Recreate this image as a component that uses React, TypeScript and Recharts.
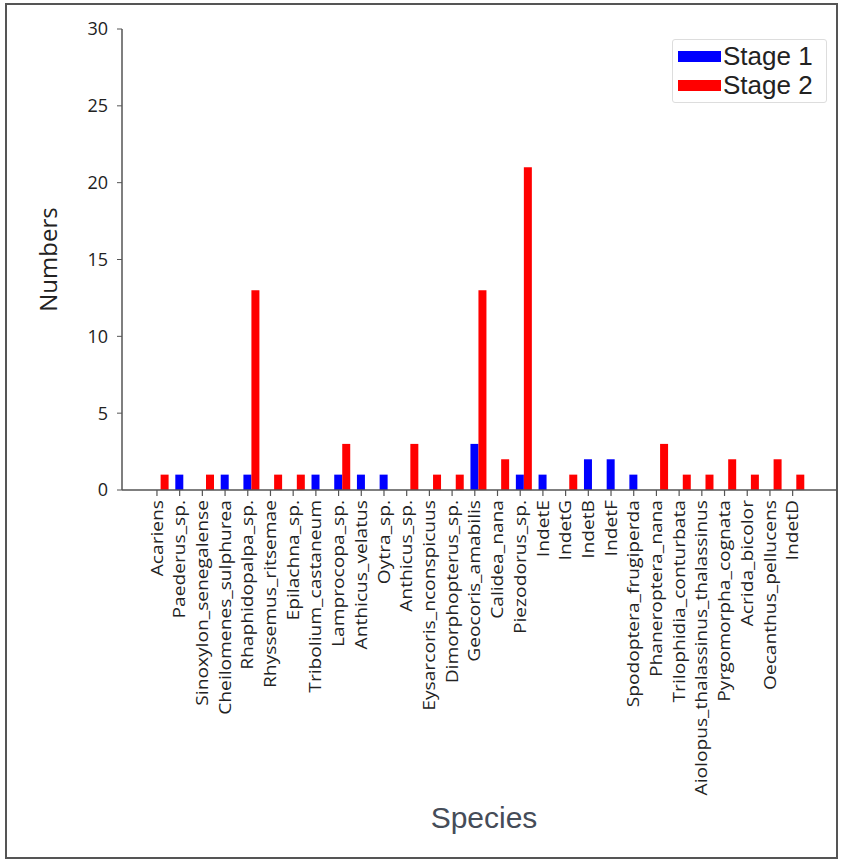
import { Bar, BarChart, XAxis, YAxis } from "recharts";

const species = [
  "Acariens",
  "Paederus_sp.",
  "Sinoxylon_senegalense",
  "Cheilomenes_sulphurea",
  "Rhaphidopalpa_sp.",
  "Rhyssemus_ritsemae",
  "Epilachna_sp.",
  "Tribolium_castaneum",
  "Lamprocopa_sp.",
  "Anthicus_velatus",
  "Oytra_sp.",
  "Anthicus_sp.",
  "Eysarcoris_nconspicuus",
  "Dimorphopterus_sp.",
  "Geocoris_amabilis",
  "Calidea_nana",
  "Piezodorus_sp.",
  "IndetE",
  "IndetG",
  "IndetB",
  "IndetF",
  "Spodoptera_frugiperda",
  "Phaneroptera_nana",
  "Trilophidia_conturbata",
  "Aiolopus_thalassinus_thalassinus",
  "Pyrgomorpha_cognata",
  "Acrida_bicolor",
  "Oecanthus_pellucens",
  "IndetD"
];

const stage1 = [0, 1, 0, 1, 1, 0, 0, 1, 1, 1, 1, 0, 0, 0, 3, 0, 1, 1, 0, 2, 2, 1, 0, 0, 0, 0, 0, 0, 0];
const stage2 = [1, 0, 1, 0, 13, 1, 1, 0, 3, 0, 0, 3, 1, 1, 13, 2, 21, 0, 1, 0, 0, 0, 3, 1, 1, 2, 1, 2, 1];

const yTicks = [0, 5, 10, 15, 20, 25, 30];

const series = [
  { key: "stage1", name: "Stage 1", color: "#0000ff" },
  { key: "stage2", name: "Stage 2", color: "#ff0000" }
];

const data = species.map((name, i) => ({ name, stage1: stage1[i], stage2: stage2[i] }));

const AXIS = "#555";
const TEXT = "#222";

// tick labels in the source are tall and narrow, so stretch them along the text
function SpeciesTick(props: any) {
  const { x, y, payload } = props;
  const tx = x - 4;
  return (
    <g>
      <line x1={tx} y1={y} x2={tx} y2={y + 6} stroke={AXIS} strokeWidth={1.2} />
      <text
        x={0}
        y={0}
        dy="0.35em"
        transform={`translate(${tx},${y + 10}) rotate(-90) scale(1.2,1)`}
        textAnchor="end"
        fontFamily="'Open Sans', sans-serif"
        fontSize={16}
        fill={TEXT}
      >
        {payload.value}
      </text>
    </g>
  );
}

export default function App() {
  return (
    <div style={{ position: "absolute", left: 0, top: 0, width: 843, height: 861, background: "#fff" }}>
      <div
        style={{
          position: "absolute",
          left: 5,
          top: 3,
          width: 833,
          height: 856,
          border: "2px solid #555",
          boxSizing: "border-box"
        }}
      />
      <BarChart
        width={843}
        height={861}
        data={data}
        margin={{ top: 29, right: 7, bottom: 71, left: 0 }}
        barGap={0}
        barSize={8}
      >
        <XAxis
          dataKey="name"
          interval={0}
          height={300}
          tickSize={0}
          tickMargin={0}
          tickLine={false}
          axisLine={{ stroke: AXIS, strokeWidth: 1.5 }}
          padding={{ left: 27.6, right: 28 }}
          tick={<SpeciesTick />}
          label={{
            value: "Species",
            position: "bottom",
            offset: 17,
            dx: 5,
            fill: "#454c58",
            fontSize: 30,
            fontFamily: "'Liberation Sans', Arial, sans-serif"
          }}
        />
        <XAxis
          xAxisId="top"
          dataKey="name"
          orientation="top"
          height={0}
          tick={false}
          tickLine={false}
          axisLine={{ stroke: AXIS, strokeWidth: 1.5 }}
        />
        <YAxis
          domain={[0, 30]}
          ticks={yTicks}
          width={122}
          tickSize={5}
          tickMargin={9}
          axisLine={{ stroke: AXIS, strokeWidth: 1.5 }}
          tickLine={{ stroke: AXIS }}
          tick={{ fill: TEXT, fontSize: 18, fontFamily: "'Open Sans', sans-serif" }}
          label={{
            value: "Numbers",
            angle: -90,
            position: "center",
            dx: -13,
            fill: TEXT,
            fontSize: 24,
            fontFamily: "'Open Sans', sans-serif"
          }}
        />
        <YAxis
          yAxisId="right"
          orientation="right"
          domain={[0, 30]}
          width={0}
          tick={false}
          tickLine={false}
          axisLine={{ stroke: AXIS, strokeWidth: 1.5 }}
        />
        {series.map((s) => (
          <Bar key={s.key} dataKey={s.key} name={s.name} fill={s.color} isAnimationActive={false} />
        ))}
      </BarChart>
      <div
        style={{
          position: "absolute",
          left: 672,
          top: 39,
          width: 155,
          padding: "2px 0 2px 5px",
          border: "1px solid #ddd",
          borderRadius: 3,
          background: "#fff",
          fontFamily: "'Liberation Sans', Arial, sans-serif",
          fontSize: 26,
          color: TEXT,
          lineHeight: "29px",
          boxSizing: "border-box"
        }}
      >
        {series.map((s) => (
          <div key={s.key} style={{ display: "flex", alignItems: "center" }}>
            <span style={{ display: "inline-block", width: 43, height: 11, background: s.color, marginRight: 2 }} />
            <span>{s.name}</span>
          </div>
        ))}
      </div>
    </div>
  );
}
